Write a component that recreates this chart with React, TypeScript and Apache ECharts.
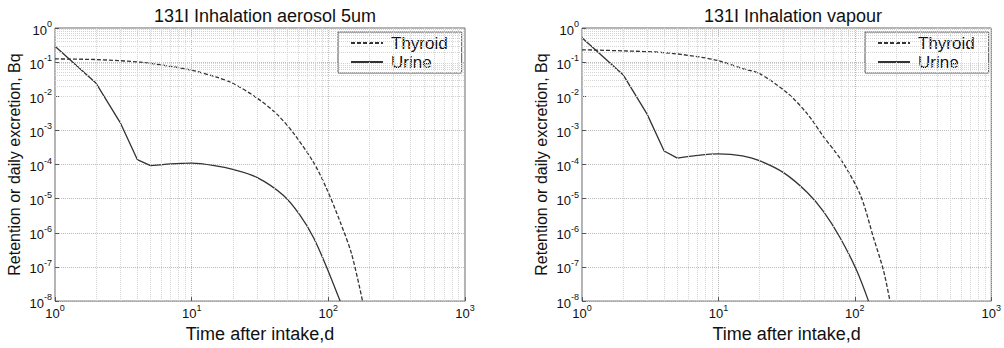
import React, { useEffect, useRef } from 'react';
import * as echarts from 'echarts';

const titles = ['131I Inhalation aerosol 5um', '131I Inhalation vapour'];
const seriesNames = ['Thyroid', 'Urine'];
const xAxisTitle = 'Time after intake,d';
const yAxisTitle = 'Retention or daily excretion, Bq';

// Aerosol 5um (left)
const aerosolThyroidDays = [1, 2, 4.2, 7, 10, 15, 20, 30, 42, 56, 78, 97, 122, 148, 178];
const aerosolThyroidBq = [0.124, 0.119, 0.1, 0.075, 0.058, 0.037, 0.024, 0.0089, 0.003, 8e-4, 1.15e-4, 2.0e-5, 2.1e-6, 2.4e-7, 1e-8];
// early urine (straight segments with kinks)
const aerosolUrineEarlyDays = [1, 2, 3, 4, 5];
const aerosolUrineEarlyBq = [0.29, 0.024, 0.0017, 1.4e-4, 9.3e-5];
// later urine (smooth)
const aerosolUrineLateDays = [5, 7, 10, 15, 20, 30, 47, 62, 78, 97, 122];
const aerosolUrineLateBq = [9.3e-5, 1.05e-4, 1.1e-4, 9.2e-5, 7.2e-5, 4.2e-5, 1.24e-5, 3.3e-6, 7.2e-7, 1e-7, 1e-8];

// Vapour (right)
const vapourThyroidDays = [1, 2, 4, 7, 10, 15, 20, 32, 45, 59, 80, 110, 137, 162, 181];
const vapourThyroidBq = [0.23, 0.214, 0.19, 0.145, 0.11, 0.065, 0.046, 0.0125, 0.003, 6.5e-4, 1.3e-4, 1.26e-5, 7.2e-7, 8e-8, 1e-8];
const vapourUrineEarlyDays = [1, 2, 3, 4, 5];
const vapourUrineEarlyBq = [0.52, 0.043, 0.003, 2.5e-4, 1.55e-4];
const vapourUrineLateDays = [5, 7, 10, 15, 20, 30, 45, 59, 78, 103, 126];
const vapourUrineLateBq = [1.55e-4, 1.85e-4, 2.05e-4, 1.8e-4, 1.3e-4, 5.8e-5, 1.5e-5, 4.2e-6, 7.2e-7, 8e-8, 1e-8];

const xDecades = [1, 10, 100];
const yDecades = [1e-8, 1e-7, 1e-6, 1e-5, 1e-4, 1e-3, 1e-2, 1e-1];
const mantissas = [2, 3, 4, 5, 6, 7, 8, 9];

const pair = (xs: number[], ys: number[]) => xs.map((x, i) => [x, ys[i]]);

const supLabel = (v: number) => {
  const e = Math.round(Math.log10(v));
  return `{b|10}{s|${e}}`;
};

const richLabel = {
  b: { fontSize: 13, fontFamily: 'Liberation Sans, Arial', color: '#111', lineHeight: 17, verticalAlign: 'bottom' },
  s: { fontSize: 9, fontFamily: 'Liberation Sans, Arial', color: '#111', lineHeight: 17, verticalAlign: 'top' },
};

export default function App() {
  const ref = useRef<HTMLDivElement>(null);
  useEffect(() => {
    if (!ref.current) return;
    const chart = echarts.init(ref.current, null, { renderer: 'svg' });
    const font = 'Liberation Sans, Arial, sans-serif';
    const grids = [
      { left: 55, top: 28, width: 410, height: 280 },
      { left: 582, top: 28, width: 412, height: 280 },
    ];
    const xMinor: number[] = [];
    xDecades.forEach((d) => mantissas.forEach((m) => xMinor.push(d * m)));
    const yMinor: number[] = [];
    yDecades.forEach((d) => mantissas.forEach((m) => yMinor.push(d * m)));

    const gridLineData = [
      ...xMinor.map((v) => ({ xAxis: v })),
      ...yMinor.map((v) => ({ yAxis: v })),
    ];

    const xAxes = grids.map((_, i) => ({
      type: 'log',
      gridIndex: i,
      logBase: 10,
      min: 1,
      max: 1000,
      name: xAxisTitle,
      nameLocation: 'middle',
      nameGap: 20,
      nameTextStyle: { fontSize: 18, fontFamily: font, color: '#111' },
      axisLine: { show: false },
      axisTick: { show: true, inside: true, length: 4, lineStyle: { color: '#555' } },
      axisLabel: { formatter: supLabel, rich: richLabel, margin: 2 },
      splitLine: { show: true, lineStyle: { color: '#bbb', type: 'dotted', width: 1 } },
    }));
    const yAxes = grids.map((_, i) => ({
      type: 'log',
      gridIndex: i,
      logBase: 10,
      min: 1e-8,
      max: 1,
      splitNumber: 8,
      name: yAxisTitle,
      nameLocation: 'middle',
      nameGap: 33,
      nameTextStyle: { fontSize: 16, fontFamily: font, color: '#111' },
      axisLine: { show: false },
      axisTick: { show: true, inside: true, length: 4, lineStyle: { color: '#555' } },
      axisLabel: { formatter: supLabel, rich: richLabel, margin: 3 },
      splitLine: { show: true, lineStyle: { color: '#bbb', type: 'dotted', width: 1 } },
    }));

    const datasets = [
      {
        thyroid: pair(aerosolThyroidDays, aerosolThyroidBq),
        urineEarly: pair(aerosolUrineEarlyDays, aerosolUrineEarlyBq),
        urineLate: pair(aerosolUrineLateDays, aerosolUrineLateBq),
      },
      {
        thyroid: pair(vapourThyroidDays, vapourThyroidBq),
        urineEarly: pair(vapourUrineEarlyDays, vapourUrineEarlyBq),
        urineLate: pair(vapourUrineLateDays, vapourUrineLateBq),
      },
    ];

    const lineColor = '#333';
    const series: any[] = [];
    grids.forEach((_, i) => {
      series.push({
        type: 'line',
        name: '__grid' + i,
        xAxisIndex: i,
        yAxisIndex: i,
        data: [],
        silent: true,
        z: 1,
        markLine: {
          silent: true,
          symbol: ['none', 'none'],
          label: { show: false },
          lineStyle: { color: '#d4d4d4', type: 'dotted', width: 1 },
          emphasis: { disabled: true },
          data: gridLineData,
        },
      });
      series.push({
        type: 'line',
        name: seriesNames[0],
        xAxisIndex: i,
        yAxisIndex: i,
        data: datasets[i].thyroid,
        showSymbol: false,
        symbol: 'none',
        smooth: 0.3,
        z: 3,
        lineStyle: { color: lineColor, width: 1.3, type: [4, 2] },
        itemStyle: { color: lineColor },
      });
      series.push({
        type: 'line',
        name: seriesNames[1],
        xAxisIndex: i,
        yAxisIndex: i,
        data: datasets[i].urineEarly,
        showSymbol: false,
        symbol: 'none',
        z: 3,
        lineStyle: { color: lineColor, width: 1.3, type: 'solid' },
        itemStyle: { color: lineColor },
      });
      series.push({
        type: 'line',
        name: seriesNames[1],
        xAxisIndex: i,
        yAxisIndex: i,
        data: datasets[i].urineLate,
        showSymbol: false,
        symbol: 'none',
        smooth: 0.3,
        z: 3,
        lineStyle: { color: lineColor, width: 1.3, type: 'solid' },
        itemStyle: { color: lineColor },
      });
    });

    const legendLefts = [338, 865];
    chart.setOption({
      animation: false,
      backgroundColor: '#fff',
      title: grids.map((g, i) => ({
        text: titles[i],
        left: g.left + g.width / 2,
        textAlign: 'center',
        top: 2,
        textStyle: { fontSize: 18, fontWeight: 'normal', fontFamily: font, color: '#111' },
      })),
      legend: legendLefts.map((l) => ({
        data: seriesNames,
        orient: 'vertical',
        left: l,
        top: 32,
        itemWidth: 32,
        itemHeight: 14,
        itemGap: 1,
        padding: [2, 14, 2, 12],
        borderColor: '#555',
        borderWidth: 1,
        backgroundColor: '#fff',
        selectedMode: false,
        itemStyle: { opacity: 0 },
        textStyle: { fontSize: 17, fontFamily: font, color: '#111', lineHeight: 18, padding: [0, 0, 0, 3] },
      })),
      grid: grids.map((g) => ({ ...g, show: true, borderColor: '#666', borderWidth: 1, backgroundColor: '#fff' })),
      xAxis: xAxes,
      yAxis: yAxes,
      series,
    });
    return () => chart.dispose();
  }, []);
  return <div ref={ref} style={{ position: 'absolute', left: 0, top: 0, width: 1004, height: 348 }} />;
}
